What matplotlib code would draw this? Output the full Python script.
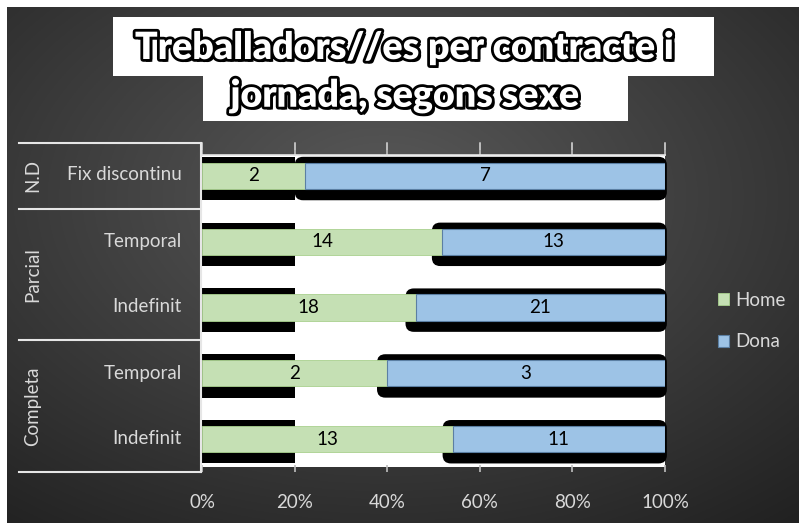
import numpy as np
import matplotlib
matplotlib.use("Agg")
import matplotlib.pyplot as plt
import matplotlib.patheffects as pe
from matplotlib.patches import Rectangle, FancyBboxPatch
from matplotlib.lines import Line2D

# Data

groups = ["N.D", "Parcial", "Completa"]
group_sizes = [1, 2, 2]
categories = ["Fix discontinu", "Temporal", "Indefinit", "Temporal", "Indefinit"]
home = [2, 14, 18, 2, 13]
dona = [7, 13, 21, 3, 11]
ticks = [0, 20, 40, 60, 80, 100]
tick_labels = ["0%", "20%", "40%", "60%", "80%", "100%"]
title_lines = ["Treballadors//es per contracte i", "jornada, segons sexe"]

W, H = 799, 523
FONT = "Lato"
LIGHT = "#d9d9d9"
FS = 13.5


def fx(px):
    return px / W


def fy(py):
    return 1 - py / H


fig = plt.figure(figsize=(W / 100, H / 100), dpi=100)
fig.patch.set_facecolor("white")

# Background gradient

bg = fig.add_axes([fx(7), 0, 1 - fx(7), fy(7)], zorder=0)
yy, xx = np.mgrid[0:300, 0:400]
d = np.sqrt(((xx - 190) / 400.0) ** 2 + ((yy - 110) / 300.0) ** 2)
shade = np.clip(0.35 - 0.27 * d, 0.13, 0.35)
bg.imshow(np.dstack([shade, shade, shade]), aspect="auto", extent=[0, 1, 0, 1])
bg.axis("off")

# white plot area (smaller than the category axis span)
bg.add_patch(Rectangle((fx(202) / (1 - fx(7)) - fx(7) / (1 - fx(7)), fy(467) / fy(7)),
                       (fx(665) - fx(202)) / (1 - fx(7)),
                       (fy(155) - fy(467)) / fy(7),
                       facecolor="white", edgecolor="none",
                       transform=bg.transAxes))

# Percentages

home = np.array(home, dtype=float)
dona = np.array(dona, dtype=float)
total = home + dona
home_pct = home / total * 100
dona_pct = dona / total * 100

ax = fig.add_axes([fx(202), fy(472), fx(665) - fx(202), fy(143) - fy(472)],
                  zorder=1)
ax.patch.set_visible(False)
y = np.arange(len(categories))
bar_h = 0.4

# black shadow shapes
for i in range(len(categories)):
    top = y[i] - bar_h / 2 - 0.09
    bot = y[i] + bar_h / 2 + 0.17
    ax.add_patch(Rectangle((0, top), 20, bot - top, facecolor="black",
                           edgecolor="none", zorder=1))
    start = max(home_pct[i] - 2.2, 20)
    ax.add_patch(FancyBboxPatch((start, top), 100.4 - start, bot - top,
                                boxstyle="round,pad=0,rounding_size=1.8",
                                mutation_aspect=0.07, facecolor="black",
                                edgecolor="none", zorder=1, clip_on=False))

b1 = ax.barh(y, home_pct, height=bar_h, color="#c5e0b4",
             edgecolor="#a9d18e", linewidth=0.6, label="Home", zorder=2)
b2 = ax.barh(y, dona_pct, left=home_pct, height=bar_h, color="#9dc3e6",
             edgecolor="#5b7fa3", linewidth=0.8, label="Dona", zorder=2)

for i in range(len(categories)):
    ax.text(home_pct[i] / 2, y[i], str(int(home[i])), ha="center",
            va="center", fontsize=FS, family=FONT, color="black", zorder=3)
    ax.text(home_pct[i] + dona_pct[i] / 2, y[i], str(int(dona[i])),
            ha="center", va="center", fontsize=FS, family=FONT,
            color="black", zorder=3)

ax.set_xlim(0, 100)
ax.set_ylim(len(categories) - 0.5, -0.5)
ax.set_yticks([])
ax.set_xticks(ticks)
ax.set_xticklabels(tick_labels, family=FONT, fontsize=FS, color=LIGHT)
ax.tick_params(axis="x", bottom=True, top=True, direction="in",
               length=5, width=1.2, color="#bfbfbf", pad=16)
for s in ax.spines.values():
    s.set_visible(False)

# top ticks and line
for t in ticks:
    xp = 202 + (665 - 202) * t / 100
    fig.add_artist(Line2D([fx(xp), fx(xp)], [fy(143), fy(155)],
                          color="#bfbfbf", lw=1.2))
fig.add_artist(Line2D([fx(202), fx(665)], [fy(155), fy(155)],
                      color="#e6e6e6", lw=1.2))

# Category labels (multi-level)

row_px = [175, 241, 307, 373, 438]
for lab, rp in zip(categories, row_px):
    fig.text(fx(182), fy(rp), lab, ha="right", va="center",
             fontsize=FS, family=FONT, color=LIGHT)

bounds = [143, 209, 340, 472]
for k, g in enumerate(groups):
    mid = (bounds[k] + bounds[k + 1]) / 2
    if group_sizes[k] == 1:
        mid = row_px[0]
    fig.text(fx(33), fy(mid), g, ha="center", va="center", rotation=90,
             fontsize=FS, family=FONT, color=LIGHT)

for b in bounds:
    fig.add_artist(Line2D([fx(19), fx(201)], [fy(b), fy(b)],
                          color="#e6e6e6", lw=1.5))
fig.add_artist(Line2D([fx(201), fx(201)], [fy(143), fy(472)],
                      color="#e6e6e6", lw=1.5))

# Legend

fig.legend(handles=[b1, b2], labels=["Home", "Dona"],
           loc="center left", bbox_to_anchor=(fx(701), fy(321)),
           frameon=False, handlelength=0.6, handleheight=0.6,
           handletextpad=0.35, labelspacing=1.3,
           prop={"family": FONT, "size": FS}, labelcolor=LIGHT)

# Title boxes

fig.add_artist(Rectangle((fx(113), fy(76)), fx(714) - fx(113),
                         fy(17) - fy(76), facecolor="white",
                         edgecolor="none", transform=fig.transFigure))
fig.add_artist(Rectangle((fx(203), fy(121)), fx(628) - fx(203),
                         fy(76) - fy(121), facecolor="white",
                         edgecolor="none", transform=fig.transFigure))

effects = [pe.withSimplePatchShadow(offset=(2, -2), shadow_rgbFace="black",
                                    alpha=1.0),
           pe.withStroke(linewidth=4, foreground="black")]
for line, yp in zip(title_lines, [48, 96]):
    fig.text(fx(405), fy(yp), line, ha="center", va="center",
             fontsize=27, fontweight="heavy", family=FONT, color="white",
             path_effects=effects)

fig.savefig("out.png", dpi=100)
